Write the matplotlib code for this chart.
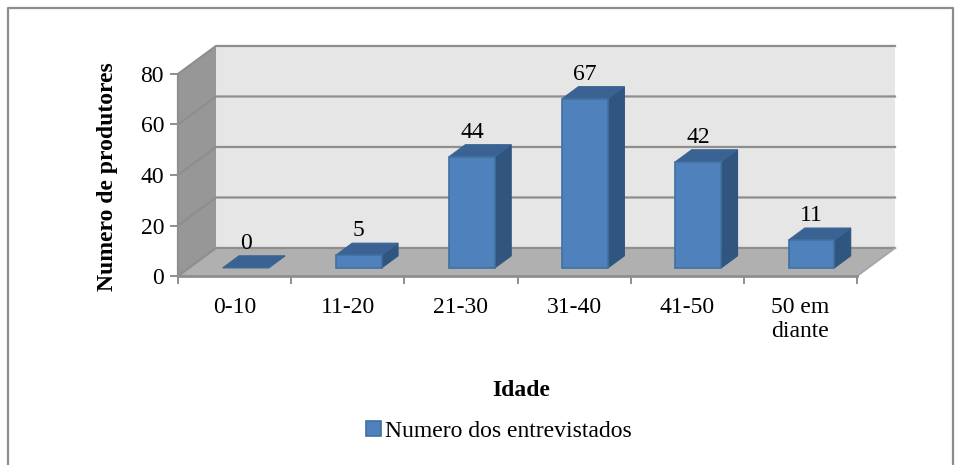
import matplotlib
matplotlib.use('Agg')
import matplotlib.pyplot as plt
from matplotlib.lines import Line2D
from matplotlib.patches import Patch, Polygon

plt.rcParams['font.family'] = ['Liberation Serif', 'DejaVu Serif']

# dados do grafico
categorias = ['0-10', '11-20', '21-30', '31-40', '41-50', '50 em\ndiante']
entrevistados = [0, 5, 44, 67, 42, 11]
y_ticks = [0, 20, 40, 60, 80]
serie = 'Numero dos entrevistados'

# tamanho da figura em pixels
W, H = 965, 465
# efeito 3D: deslocamento do fundo, em unidades dos eixos
DX = 0.336
DY = 11.1
BAR_W = 0.405
BAR_D0 = 0.29  # frente da barra (fracao da profundidade)
BAR_D1 = 0.72  # fundo da barra

COR_FRENTE = '#4F81BD'
COR_BORDA = '#41719F'
COR_TOPO = '#3A6293'
COR_LADO = '#30557F'


def proj(x, y, d=0.0):
    return (x + DX * d, y + DY * d)


fig = plt.figure(figsize=(W / 100, H / 100), dpi=100)
ax = fig.add_axes([178 / W, 1 - 276 / H, (857 - 178) / W, (276 - 74) / H])
ax.set_xlim(0, len(categorias))
ax.set_ylim(0, 80)
ax.patch.set_visible(False)
for s in ax.spines.values():
    s.set_visible(False)


def poly(pts, cor, borda='none', z=1, lw=0.0):
    ax.add_patch(Polygon(pts, closed=True, facecolor=cor, edgecolor=borda,
                         linewidth=lw, zorder=z, clip_on=False))


n = len(categorias)
# paredes e chao
poly([proj(0, 0, 1), proj(n, 0, 1), proj(n, 80, 1), proj(0, 80, 1)], '#E6E6E6')
poly([proj(0, 0), proj(0, 0, 1), proj(0, 80, 1), proj(0, 80)], '#979797')
poly([proj(0, 0), proj(n, 0), proj(n, 0, 1), proj(0, 0, 1)], '#B0B0B0')

# linhas de grade
for v in y_ticks:
    xs, ys = zip(proj(0, v), proj(0, v, 1), proj(n, v, 1))
    ax.plot(xs, ys, color='#8E8E8E', lw=1.6, zorder=2, clip_on=False, solid_joinstyle='miter')
xs, ys = zip(proj(n, 0), proj(n, 0, 1))
ax.plot(xs, ys, color='#A6A6A6', lw=1.4, zorder=2, clip_on=False)
ax.plot([0, 0], [0, 80], color='#8E8E8E', lw=1.6, zorder=2, clip_on=False)
ax.plot([0, n], [0, 0], color='#8E8E8E', lw=2.0, zorder=2, clip_on=False)

# barras
for i, v in enumerate(entrevistados):
    x0 = i + 0.5 - BAR_W / 2
    x1 = i + 0.5 + BAR_W / 2
    z = 3 + i
    poly([proj(x1, 0, BAR_D0), proj(x1, 0, BAR_D1), proj(x1, v, BAR_D1), proj(x1, v, BAR_D0)],
         COR_LADO, COR_LADO, z, 0.8)
    poly([proj(x0, v, BAR_D0), proj(x1, v, BAR_D0), proj(x1, v, BAR_D1), proj(x0, v, BAR_D1)],
         COR_TOPO, COR_TOPO, z, 0.8)
    if v > 0:
        poly([proj(x0, 0, BAR_D0), proj(x1, 0, BAR_D0), proj(x1, v, BAR_D0), proj(x0, v, BAR_D0)],
             COR_FRENTE, COR_BORDA, z, 1.2)
    tx, ty = proj(i + 0.5, v, BAR_D1)
    tx = proj(i + 0.5, v, BAR_D0)[0]
    ax.annotate(str(v), (tx, ty), xytext=(0, 5), textcoords='offset points',
                ha='center', va='baseline', fontsize=17, color='black', zorder=20)

# eixos
ax.set_xticks(range(n + 1))
ax.set_xticklabels([])
ax.set_xticks([i + 0.5 for i in range(n)], labels=categorias, minor=True)
ax.set_yticks(y_ticks)
ax.tick_params(axis='x', which='major', length=6, width=1.4, color='#8E8E8E')
ax.tick_params(axis='x', which='minor', length=0, pad=15, labelsize=17)
ax.tick_params(axis='y', length=6, width=1.4, color='#8E8E8E', pad=4, labelsize=17)

ax.set_xlabel('Idade', fontsize=17, fontweight='bold')
ax.xaxis.set_label_coords(521 / W, 1 - 390 / H, transform=fig.transFigure)
ax.xaxis.label.set_va('center')
ax.set_ylabel('Numero de produtores', fontsize=17, fontweight='bold')
ax.yaxis.set_label_coords(107 / W, 1 - 177 / H, transform=fig.transFigure)
ax.yaxis.label.set_va('center')

# legenda
handle = Patch(facecolor=COR_FRENTE, edgecolor=COR_BORDA, linewidth=1.2, label=serie)
fig.legend(handles=[handle], loc='center', bbox_to_anchor=(499 / W, 1 - 431 / H), frameon=False,
           fontsize=17, handlelength=0.62, handleheight=0.62, handletextpad=0.2,
           borderpad=0, borderaxespad=0)

# moldura do grafico
moldura_x = [8 / W, 8 / W, 953 / W, 953 / W]
moldura_y = [0, 1 - 8 / H, 1 - 8 / H, 0]
fig.add_artist(Line2D(moldura_x, moldura_y, color='#8C8C8C', lw=1.6, transform=fig.transFigure))

fig.savefig('out.png', dpi=100)
